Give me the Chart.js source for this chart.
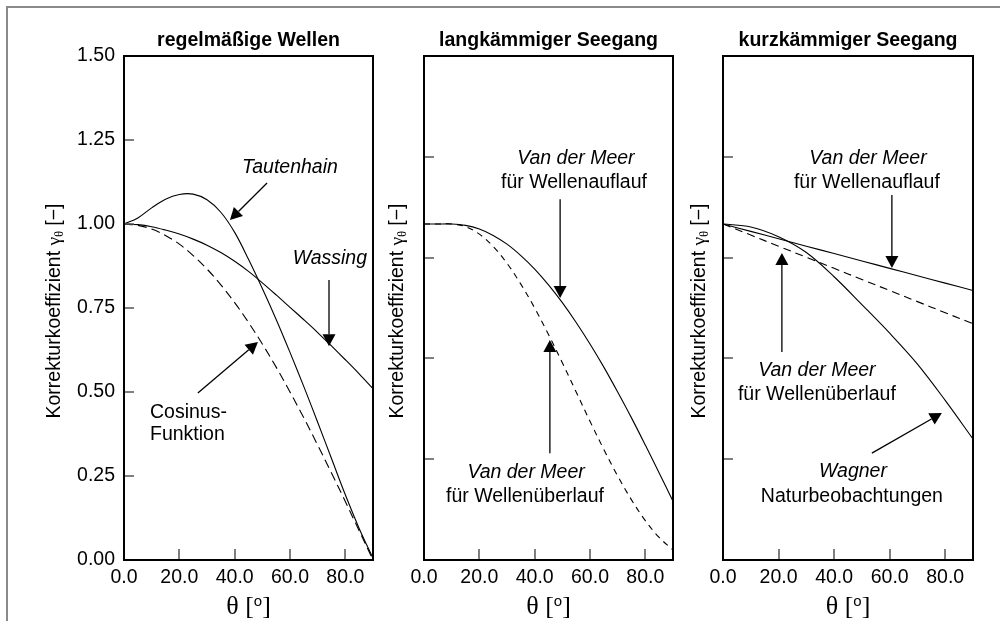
<!DOCTYPE html>
<html>
<head>
<meta charset="utf-8">
<title>Korrekturkoeffizient</title>
<script src="https://cdn.jsdelivr.net/npm/chart.js@4/dist/chart.umd.min.js"></script>
<style>
  body { margin: 0; background: #fff; }
  #wrap { position: relative; width: 1000px; height: 621px; overflow: hidden; }
  #wrap canvas { position: absolute; left: 0; top: 0; }
  #outline { position: absolute; left: 6px; top: 6px; right: -10px; bottom: -10px;
             border-left: 2px solid #8a8a8a; border-top: 2px solid #8a8a8a; }
</style>
</head>
<body>
<div id="wrap">
  <div id="outline"></div>
  <canvas id="p1" width="1000" height="621"></canvas>
  <canvas id="p2" width="1000" height="621"></canvas>
  <canvas id="p3" width="1000" height="621"></canvas>
</div>
<script>
// --- DATA ---
const theta5 = [0, 5, 10, 15, 20, 25, 30, 35, 40, 45, 50, 55, 60, 65, 70, 75, 80, 85, 90];
const theta10 = [0, 10, 20, 30, 40, 50, 60, 70, 80, 90];

// regelmäßige Wellen
const tautenhain = [1.000, 1.018, 1.048, 1.074, 1.088, 1.089, 1.072, 1.035, 0.975, 0.895, 0.808, 0.716, 0.618, 0.516, 0.410, 0.302, 0.194, 0.094, 0.005];
const wassing    = [1.000, 0.998, 0.992, 0.982, 0.970, 0.955, 0.937, 0.915, 0.889, 0.859, 0.825, 0.789, 0.752, 0.715, 0.677, 0.637, 0.596, 0.554, 0.510];
const cosinus    = [1.000, 0.996, 0.985, 0.966, 0.940, 0.906, 0.866, 0.819, 0.766, 0.707, 0.643, 0.574, 0.500, 0.423, 0.342, 0.259, 0.174, 0.087, 0.000];

// langkämmiger Seegang
const vdmAuflaufLang   = [1.000, 1.000, 1.000, 0.996, 0.985, 0.966, 0.940, 0.906, 0.866, 0.819, 0.766, 0.707, 0.643, 0.574, 0.500, 0.423, 0.342, 0.259, 0.175];
const vdmUeberlaufLang = [1.000, 1.000, 1.000, 0.992, 0.970, 0.933, 0.883, 0.821, 0.750, 0.671, 0.587, 0.500, 0.413, 0.329, 0.250, 0.179, 0.117, 0.067, 0.030];

// kurzkämmiger Seegang
const vdmAuflaufKurz   = [1.000, 0.978, 0.956, 0.934, 0.912, 0.890, 0.868, 0.846, 0.824, 0.802];
const vdmUeberlaufKurz = [1.000, 0.967, 0.934, 0.901, 0.868, 0.835, 0.802, 0.769, 0.736, 0.703];
const wagner           = [1.000, 0.991, 0.962, 0.915, 0.843, 0.760, 0.675, 0.583, 0.475, 0.360];

const xTicks = [0, 20, 40, 60, 80];
const yTicksLabelled = [0, 0.25, 0.5, 0.75, 1.0, 1.25, 1.5];
const yTicksPlain = [0, 0.3, 0.6, 0.9, 1.2, 1.5];

const panelTitles = ['regelmäßige Wellen', 'langkämmiger Seegang', 'kurzkämmiger Seegang'];

// --- DRAWING HELPERS ---
const SANS = '"Liberation Sans", Arial, sans-serif';
const SERIF = '"Liberation Serif", "Times New Roman", serif';

Chart.defaults.font.family = SANS;
Chart.defaults.color = '#000';

function drawArrow(ctx, x1, y1, x2, y2) {
  const ang = Math.atan2(y2 - y1, x2 - x1);
  const len = 12, half = 6.5;
  const bx = x2 - len * Math.cos(ang), by = y2 - len * Math.sin(ang);
  ctx.beginPath();
  ctx.moveTo(x1, y1);
  ctx.lineTo(bx, by);
  ctx.stroke();
  ctx.beginPath();
  ctx.moveTo(x2, y2);
  ctx.lineTo(bx + half * Math.sin(ang), by - half * Math.cos(ang));
  ctx.lineTo(bx - half * Math.sin(ang), by + half * Math.cos(ang));
  ctx.closePath();
  ctx.fill();
}

const panelFrame = {
  id: 'panelFrame',
  afterDraw(chart, args, opts) {
    const { ctx, chartArea: a, scales: { x, y } } = chart;
    ctx.save();

    // tick marks pointing into the plot
    ctx.strokeStyle = '#555';
    ctx.lineWidth = 1.5;
    ctx.beginPath();
    y.ticks.forEach(t => {
      if (t.value <= y.min || t.value >= y.max) return;
      const py = Math.round(y.getPixelForValue(t.value));
      ctx.moveTo(a.left, py);
      ctx.lineTo(a.left + 10, py);
    });
    x.ticks.forEach(t => {
      if (t.value <= x.min || t.value >= x.max) return;
      const px = Math.round(x.getPixelForValue(t.value));
      ctx.moveTo(px, a.bottom);
      ctx.lineTo(px, a.bottom - 11);
    });
    ctx.stroke();

    // plot frame
    ctx.strokeStyle = '#000';
    ctx.lineWidth = 2;
    ctx.strokeRect(a.left, a.top, a.right - a.left, a.bottom - a.top);

    const cx = (a.left + a.right) / 2;
    ctx.fillStyle = '#000';

    // panel title
    ctx.font = 'bold 19.5px ' + SANS;
    ctx.textAlign = 'center';
    ctx.textBaseline = 'middle';
    ctx.fillText(opts.title, cx, a.top - 15);

    // y axis title, rotated, with subscript theta
    ctx.save();
    ctx.translate(a.left - opts.yTitleGap, (a.top + a.bottom) / 2 + 3);
    ctx.rotate(-Math.PI / 2);
    ctx.textAlign = 'left';
    ctx.textBaseline = 'middle';
    const parts = [
      { t: 'Korrekturkoeffizient ', f: '19.5px ' + SANS, dy: 0 },
      { t: 'γ', f: '19.5px ' + SERIF, dy: 0 },
      { t: 'θ', f: '12px ' + SERIF, dy: 5 },
      { t: ' [−]', f: '19.5px ' + SANS, dy: 0 }
    ];
    let total = 0;
    parts.forEach(p => { ctx.font = p.f; p.w = ctx.measureText(p.t).width; total += p.w; });
    let px = -total / 2;
    parts.forEach(p => { ctx.font = p.f; ctx.fillText(p.t, px, p.dy); px += p.w; });
    ctx.restore();

    // x axis title: θ [°]
    const xparts = [
      { t: 'θ [', f: '26px ' + SERIF, dy: 0 },
      { t: 'o', f: '15px ' + SANS, dy: -8 },
      { t: ']', f: '26px ' + SERIF, dy: 0 }
    ];
    ctx.textAlign = 'left';
    ctx.textBaseline = 'alphabetic';
    let xt = 0;
    xparts.forEach(p => { ctx.font = p.f; p.w = ctx.measureText(p.t).width; xt += p.w; });
    let qx = cx - xt / 2;
    xparts.forEach(p => { ctx.font = p.f; ctx.fillText(p.t, qx, a.bottom + 54 + p.dy); qx += p.w; });

    // annotation labels, placed in data coordinates
    ctx.textBaseline = 'middle';
    (opts.labels || []).forEach(l => {
      ctx.font = (l.italic ? 'italic ' : '') + '19.5px ' + SANS;
      ctx.textAlign = l.align || 'center';
      ctx.fillText(l.text, x.getPixelForValue(l.x), y.getPixelForValue(l.y));
    });

    // arrows
    ctx.lineWidth = 1.3;
    (opts.arrows || []).forEach(ar => {
      drawArrow(ctx,
        x.getPixelForValue(ar.from[0]), y.getPixelForValue(ar.from[1]),
        x.getPixelForValue(ar.to[0]), y.getPixelForValue(ar.to[1]));
    });

    ctx.restore();
  }
};

function makePanel(id, cfg) {
  const yw = 60, xh = 50;
  return new Chart(document.getElementById(id), {
    type: 'scatter',
    data: {
      datasets: cfg.series.map(s => ({
        data: s.values.map((v, i) => ({ x: s.theta[i], y: v })),
        showLine: true,
        borderColor: '#000',
        borderWidth: 1.1,
        borderDash: s.dash || [],
        pointRadius: 0,
        tension: 0.35
      }))
    },
    options: {
      responsive: false,
      animation: false,
      events: [],
      layout: {
        padding: {
          left: cfg.left - yw,
          right: 1000 - cfg.right,
          top: 56,
          bottom: 621 - 560 - xh
        }
      },
      plugins: {
        legend: { display: false },
        tooltip: { enabled: false },
        panelFrame: {
          title: cfg.title,
          yTitleGap: cfg.yTitleGap,
          labels: cfg.labels,
          arrows: cfg.arrows
        }
      },
      scales: {
        x: {
          type: 'linear', min: 0, max: 90,
          afterBuildTicks: s => { s.ticks = xTicks.map(v => ({ value: v })); },
          afterFit: s => { s.height = xh; },
          grid: { display: false, drawTicks: false },
          border: { display: false },
          ticks: { font: { size: 19.5 }, padding: 6, maxRotation: 0, callback: v => v.toFixed(1) }
        },
        y: {
          type: 'linear', min: 0, max: 1.5,
          afterBuildTicks: s => { s.ticks = cfg.yTicks.map(v => ({ value: v })); },
          afterFit: s => { s.width = yw; },
          grid: { display: false, drawTicks: false },
          border: { display: false },
          ticks: { display: cfg.yLabels, font: { size: 19.5 }, padding: 9, callback: v => v.toFixed(2) }
        }
      }
    },
    plugins: [panelFrame]
  });
}

makePanel('p1', {
  left: 124, right: 373, title: panelTitles[0], yTitleGap: 69,
  yTicks: yTicksLabelled, yLabels: true,
  series: [
    { theta: theta5, values: tautenhain },
    { theta: theta5, values: wassing },
    { theta: theta5, values: cosinus, dash: [9, 5] }
  ],
  labels: [
    { text: 'Tautenhain', x: 60, y: 1.167, italic: true },
    { text: 'Wassing', x: 74.4, y: 0.896, italic: true },
    { text: 'Cosinus-', x: 9.4, y: 0.440, align: 'left' },
    { text: 'Funktion', x: 9.4, y: 0.372, align: 'left' }
  ],
  arrows: [
    { from: [51.7, 1.122], to: [38.3, 1.012] },
    { from: [74.1, 0.833], to: [74.1, 0.636] },
    { from: [26.7, 0.497], to: [48.4, 0.649] }
  ]
});

makePanel('p2', {
  left: 424, right: 673, title: panelTitles[1], yTitleGap: 26,
  yTicks: yTicksPlain, yLabels: false,
  series: [
    { theta: theta5, values: vdmAuflaufLang },
    { theta: theta5, values: vdmUeberlaufLang, dash: [6, 5] }
  ],
  labels: [
    { text: 'Van der Meer', x: 54.9, y: 1.196, italic: true },
    { text: 'für Wellenauflauf', x: 54.2, y: 1.122 },
    { text: 'Van der Meer', x: 36.9, y: 0.259, italic: true },
    { text: 'für Wellenüberlauf', x: 36.5, y: 0.1875 }
  ],
  arrows: [
    { from: [49.2, 1.074], to: [49.2, 0.780] },
    { from: [45.5, 0.318], to: [45.5, 0.655] }
  ]
});

makePanel('p3', {
  left: 723, right: 973, title: panelTitles[2], yTitleGap: 23,
  yTicks: yTicksPlain, yLabels: false,
  series: [
    { theta: theta10, values: vdmAuflaufKurz },
    { theta: theta10, values: vdmUeberlaufKurz, dash: [8, 5] },
    { theta: theta10, values: wagner }
  ],
  labels: [
    { text: 'Van der Meer', x: 52.2, y: 1.196, italic: true },
    { text: 'für Wellenauflauf', x: 51.8, y: 1.122 },
    { text: 'Van der Meer', x: 33.8, y: 0.565, italic: true },
    { text: 'für Wellenüberlauf', x: 33.8, y: 0.491 },
    { text: 'Wagner', x: 46.8, y: 0.262, italic: true },
    { text: 'Naturbeobachtungen', x: 46.4, y: 0.1875 }
  ],
  arrows: [
    { from: [60.8, 1.086], to: [60.8, 0.869] },
    { from: [21.2, 0.619], to: [21.2, 0.914] },
    { from: [53.6, 0.318], to: [78.8, 0.4375] }
  ]
});
</script>
</body>
</html>
